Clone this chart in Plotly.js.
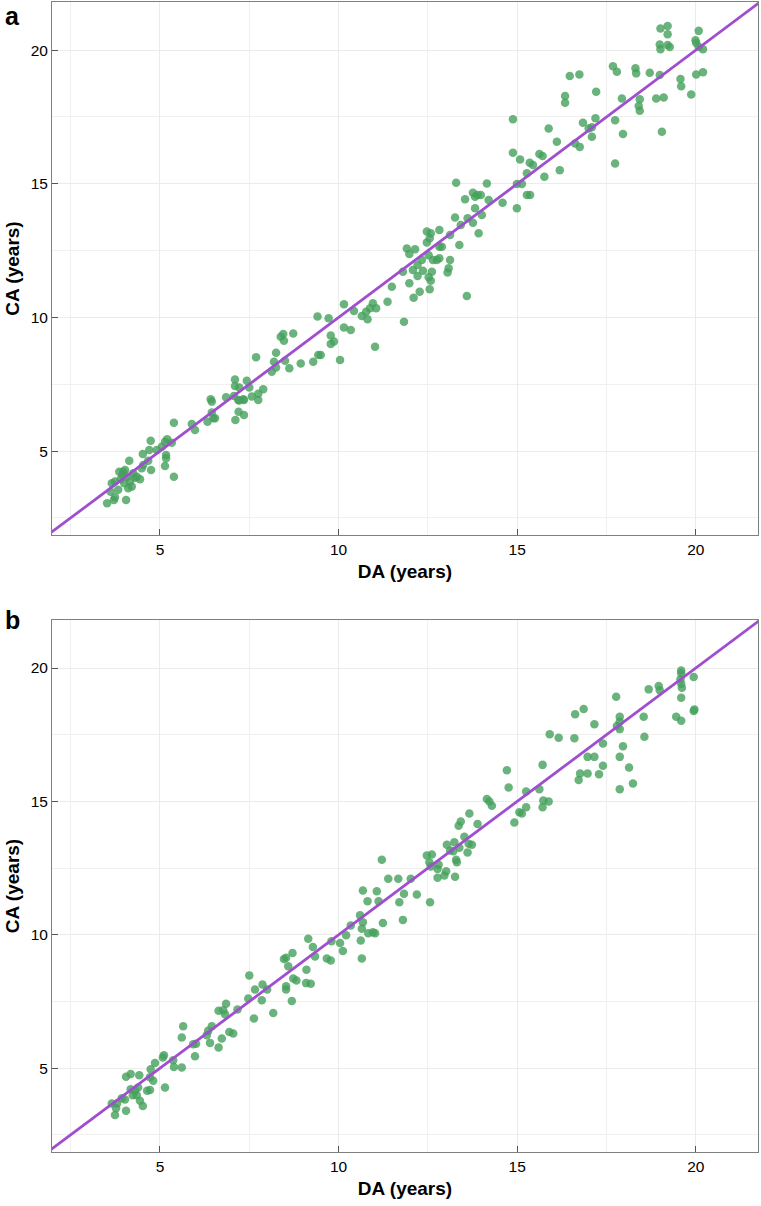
<!DOCTYPE html>
<html>
<head>
<meta charset="utf-8">
<script src="https://cdn.plot.ly/plotly-3.0.1.min.js"></script>
<style>html,body{margin:0;padding:0;background:#fff;}#chart{width:761px;height:1206px;}</style>
</head>
<body>
<div id="chart"></div>
<script>
// Panel a: DA (x) vs CA (y)
const aDA = [3.52,3.71,3.74,4.05,3.62,3.74,3.86,4.02,4.14,4.08,4.16,4.25,4.21,4.11,4.44,4.49,4.53,4.67,4.75,4.52,4.70,4.74,4.91,5.05,5.14,5.20,5.33,5.17,5.17,5.14,5.39,5.39,5.89,5.98,6.33,6.45,6.54,6.42,6.45,6.85,7.07,7.19,7.35,7.20,7.35,7.11,7.57,7.75,3.83,3.95,3.90,4.30,4.00,3.65,3.97,4.35,
6.49,7.10,7.10,7.22,7.43,7.50,7.33,7.22,7.75,7.89,7.69,8.13,8.19,8.25,8.25,8.50,8.62,8.38,8.45,8.47,8.73,8.94,9.29,9.43,9.50,9.41,9.72,9.78,9.87,9.78,10.04,10.15,10.15,10.34,10.43,10.65,10.77,10.81,10.88,10.96,11.05,11.02,11.37,
11.83,11.49,12.10,12.27,12.55,11.98,11.80,12.08,12.21,12.36,12.52,12.58,12.61,12.21,12.33,12.52,12.64,12.75,12.82,11.91,11.98,12.14,12.47,12.55,12.47,12.58,12.82,12.82,12.89,13.12,13.38,13.12,13.08,13.05,13.59,13.26,13.42,13.61,13.76,13.92,13.82,14.01,13.54,13.76,13.82,13.89,13.98,14.20,13.29,14.15,14.59,14.99,14.99,15.13,15.27,15.36,15.27,15.76,16.19,
14.88,14.88,15.08,15.35,15.44,15.62,15.71,15.88,16.11,16.34,16.34,16.47,16.74,16.62,16.75,16.84,17.00,17.09,17.09,17.19,17.21,17.68,17.79,17.74,17.93,17.96,17.74,18.31,18.33,18.40,18.43,18.43,18.71,18.89,19.10,18.99,19.05,19.01,19.21,19.21,18.99,19.01,19.21,19.27,19.57,19.59,19.87,20.01,20.20,20.08,19.99,20.01,20.08,20.20];
const aCA = [3.05,3.17,3.27,3.17,3.48,3.86,4.23,4.29,4.64,4.04,3.86,4.17,3.67,3.61,3.95,4.36,4.48,4.64,4.29,4.89,5.04,5.39,5.04,5.16,5.35,5.44,5.31,4.85,4.73,4.44,4.04,6.06,6.01,5.79,6.10,6.44,6.23,6.94,6.85,7.01,7.06,6.91,6.91,6.47,6.35,6.16,7.04,6.91,3.55,4.10,3.95,4.00,3.80,3.80,4.23,4.04,
6.23,7.68,7.43,7.38,7.63,7.38,6.94,6.89,7.14,7.31,8.51,7.97,8.34,8.68,8.13,8.38,8.10,9.28,9.38,9.13,9.40,8.28,8.34,8.59,8.59,10.03,9.97,9.32,9.10,9.01,8.41,10.49,9.62,9.53,10.24,10.05,10.21,9.93,10.34,10.53,10.34,8.90,10.59,
9.84,11.15,10.74,10.96,11.05,11.28,11.71,11.77,11.55,11.75,11.50,11.37,11.71,11.96,12.15,12.33,12.15,12.15,12.21,12.58,12.37,12.55,12.80,12.96,13.21,13.15,13.27,12.64,12.64,13.08,12.71,12.15,11.84,11.68,10.80,13.74,13.46,13.71,13.54,13.15,14.08,13.83,14.42,14.66,14.51,14.58,14.58,14.39,15.04,15.01,14.29,14.08,14.99,14.99,14.58,14.58,15.39,15.26,15.51,
17.41,16.16,15.91,15.79,15.70,16.11,16.04,17.07,16.57,18.28,18.03,19.03,19.09,16.51,16.38,17.28,17.07,17.11,16.76,17.45,18.44,19.40,19.19,17.38,18.19,16.86,15.76,19.32,19.13,17.91,18.16,17.73,19.15,18.19,18.23,19.07,16.95,20.81,20.90,20.59,20.21,20.03,20.19,20.12,18.92,18.65,18.34,19.09,19.17,20.72,20.37,20.27,20.12,20.03];

// Panel b: DA (x) vs CA (y)
const bDA = [3.74,4.05,3.65,3.80,3.93,4.02,3.77,4.52,4.44,4.24,4.35,4.18,4.30,4.39,4.64,4.72,4.05,4.18,4.42,4.72,4.81,4.74,4.86,5.08,5.11,5.14,5.37,5.39,5.61,5.61,5.65,5.93,6.01,5.98,6.31,6.35,6.45,6.40,6.64,6.73,6.94,7.05,6.64,6.77,6.82,6.85,7.17,7.63,7.85,8.17,
7.47,7.50,7.66,7.87,8.00,8.47,8.53,8.59,8.71,8.53,8.53,8.69,8.73,8.82,9.10,9.09,9.22,9.15,9.28,9.34,9.67,9.78,9.80,10.04,10.12,10.21,10.34,10.60,10.68,10.62,10.65,10.65,10.83,10.96,11.02,11.24,10.68,10.81,11.07,11.12,11.70,
11.21,11.39,11.67,12.02,11.83,12.19,12.56,11.80,12.47,12.61,12.54,12.58,12.80,12.77,12.77,12.96,13.01,13.26,13.29,13.31,13.03,13.12,13.21,13.24,13.38,13.61,13.64,13.73,13.52,13.36,13.42,13.66,13.89,14.15,14.22,14.29,14.71,14.76,14.92,15.06,15.13,15.25,15.25,15.62,15.71,15.73,15.88,15.71,16.72,16.76,
15.91,16.16,16.62,16.86,16.60,17.16,17.40,16.97,17.16,17.40,16.97,17.29,17.77,17.87,17.87,17.79,17.87,17.96,17.87,18.13,17.87,18.24,18.54,18.56,18.68,18.96,18.99,19.45,19.59,19.59,19.59,19.57,19.59,19.61,19.59,19.94,19.94,19.96];
const bCA = [3.25,3.41,3.68,3.68,3.87,3.83,3.50,3.58,3.78,3.99,3.99,4.21,4.16,4.28,4.16,4.18,4.68,4.78,4.74,4.66,4.53,4.96,5.20,5.40,5.49,4.28,5.30,5.05,5.03,6.15,6.57,5.90,5.92,5.45,6.24,6.40,6.57,5.95,5.78,6.11,6.36,6.30,7.15,7.17,7.02,7.42,7.20,6.86,7.55,7.07,
7.61,8.48,7.95,8.14,7.95,9.09,9.14,8.82,9.32,8.07,7.95,7.52,8.36,8.29,8.69,8.19,8.17,9.85,9.54,9.19,9.11,9.04,9.76,9.69,9.39,9.98,10.35,10.73,10.47,9.79,9.11,10.23,10.06,10.10,10.06,10.44,11.66,11.26,11.63,11.26,11.22,
12.81,12.10,12.10,12.10,11.54,11.51,11.22,10.56,12.97,13.01,12.72,12.56,12.63,12.47,12.14,12.22,12.38,12.18,12.81,12.72,13.38,13.16,13.13,13.47,13.26,13.09,13.41,13.38,13.68,14.09,14.25,14.55,14.15,15.09,15.00,14.84,16.17,15.52,14.21,14.59,14.55,14.78,15.37,15.46,16.37,15.03,15.00,14.78,15.80,16.05,
17.52,17.39,18.27,18.46,17.37,17.89,17.17,16.67,16.67,16.34,16.05,16.02,18.92,18.17,17.99,17.83,17.71,17.07,16.67,16.27,15.46,15.67,18.17,17.42,19.20,19.33,19.17,18.17,18.02,19.91,19.80,19.58,19.41,19.26,18.89,19.66,18.39,18.45];

const identity = [0, 25];
const xRange = [1.977, 21.74];
const yRange = [1.86, 21.80];
const tickVals = [5, 10, 15, 20];
const panelLabels = ['a', 'b'];
const xTitle = 'DA (years)';
const yTitle = 'CA (years)';

const ptColor = '#45a05b';
const lineColor = '#a04ed0';
const FONT = 'Liberation Sans, Arial, sans-serif';

function pts(x, y, xa, ya) {
  return {type: 'scatter', mode: 'markers', x: x, y: y, xaxis: xa, yaxis: ya,
    marker: {size: 8.5, color: ptColor, opacity: 0.8, line: {width: 0}}, hoverinfo: 'skip', showlegend: false};
}
function idLine(xa, ya) {
  return {type: 'scatter', mode: 'lines', x: identity, y: identity, xaxis: xa, yaxis: ya,
    line: {color: lineColor, width: 2.8}, hoverinfo: 'skip', showlegend: false};
}

const data = [pts(aDA, aCA, 'x', 'y'), idLine('x', 'y'), pts(bDA, bCA, 'x2', 'y2'), idLine('x2', 'y2')];

function xaxis(anchor) {
  return {anchor: anchor, domain: [0, 1], range: xRange, tickmode: 'array', tickvals: tickVals,
    ticks: 'inside', ticklen: 6, tickcolor: '#555', tickwidth: 1,
    showline: true, mirror: true, linecolor: '#808080', linewidth: 1,
    showgrid: true, gridcolor: '#ebebeb', gridwidth: 1, zeroline: false,
    minor: {dtick: 2.5, tick0: 0, showgrid: true, gridcolor: '#f0f0f0', gridwidth: 1, ticks: ''},
    tickfont: {family: FONT, size: 15.5, color: '#000'},
    title: {text: xTitle, font: {family: FONT, size: 19, color: '#000', weight: 'bold'}, standoff: 8},
    automargin: false};
}
function yaxis(anchor, dom) {
  return {anchor: anchor, domain: dom, range: yRange, tickmode: 'array', tickvals: tickVals,
    ticks: 'inside', ticklen: 6, tickcolor: '#555', tickwidth: 1,
    showline: true, mirror: true, linecolor: '#808080', linewidth: 1,
    showgrid: true, gridcolor: '#ebebeb', gridwidth: 1, zeroline: false,
    minor: {dtick: 2.5, tick0: 0, showgrid: true, gridcolor: '#f0f0f0', gridwidth: 1, ticks: ''},
    tickfont: {family: FONT, size: 15.5, color: '#000'},
    title: {text: yTitle, font: {family: FONT, size: 19, color: '#000', weight: 'bold'}, standoff: 6},
    automargin: false};
}

const layout = {
  width: 761, height: 1206,
  margin: {l: 52, r: 3, t: 0, b: 0, pad: 0},
  paper_bgcolor: '#fff', plot_bgcolor: '#fff',
  xaxis: xaxis('y'), yaxis: yaxis('x', [1 - 535/1206, 1 - 2/1206]),
  xaxis2: xaxis('y2'), yaxis2: yaxis('x2', [1 - 1152/1206, 1 - 620/1206]),
  annotations: [
    {text: '<b>' + panelLabels[0] + '</b>', xref: 'paper', yref: 'paper', x: -49/706, y: 1 - 0/1206, xanchor: 'left', yanchor: 'top', showarrow: false, font: {family: FONT, size: 25, color: '#000'}},
    {text: '<b>' + panelLabels[1] + '</b>', xref: 'paper', yref: 'paper', x: -49/706, y: 1 - 604/1206, xanchor: 'left', yanchor: 'top', showarrow: false, font: {family: FONT, size: 25, color: '#000'}}
  ],
  showlegend: false
};

Plotly.newPlot('chart', data, layout, {displayModeBar: false, staticPlot: true});
</script>
</body>
</html>
